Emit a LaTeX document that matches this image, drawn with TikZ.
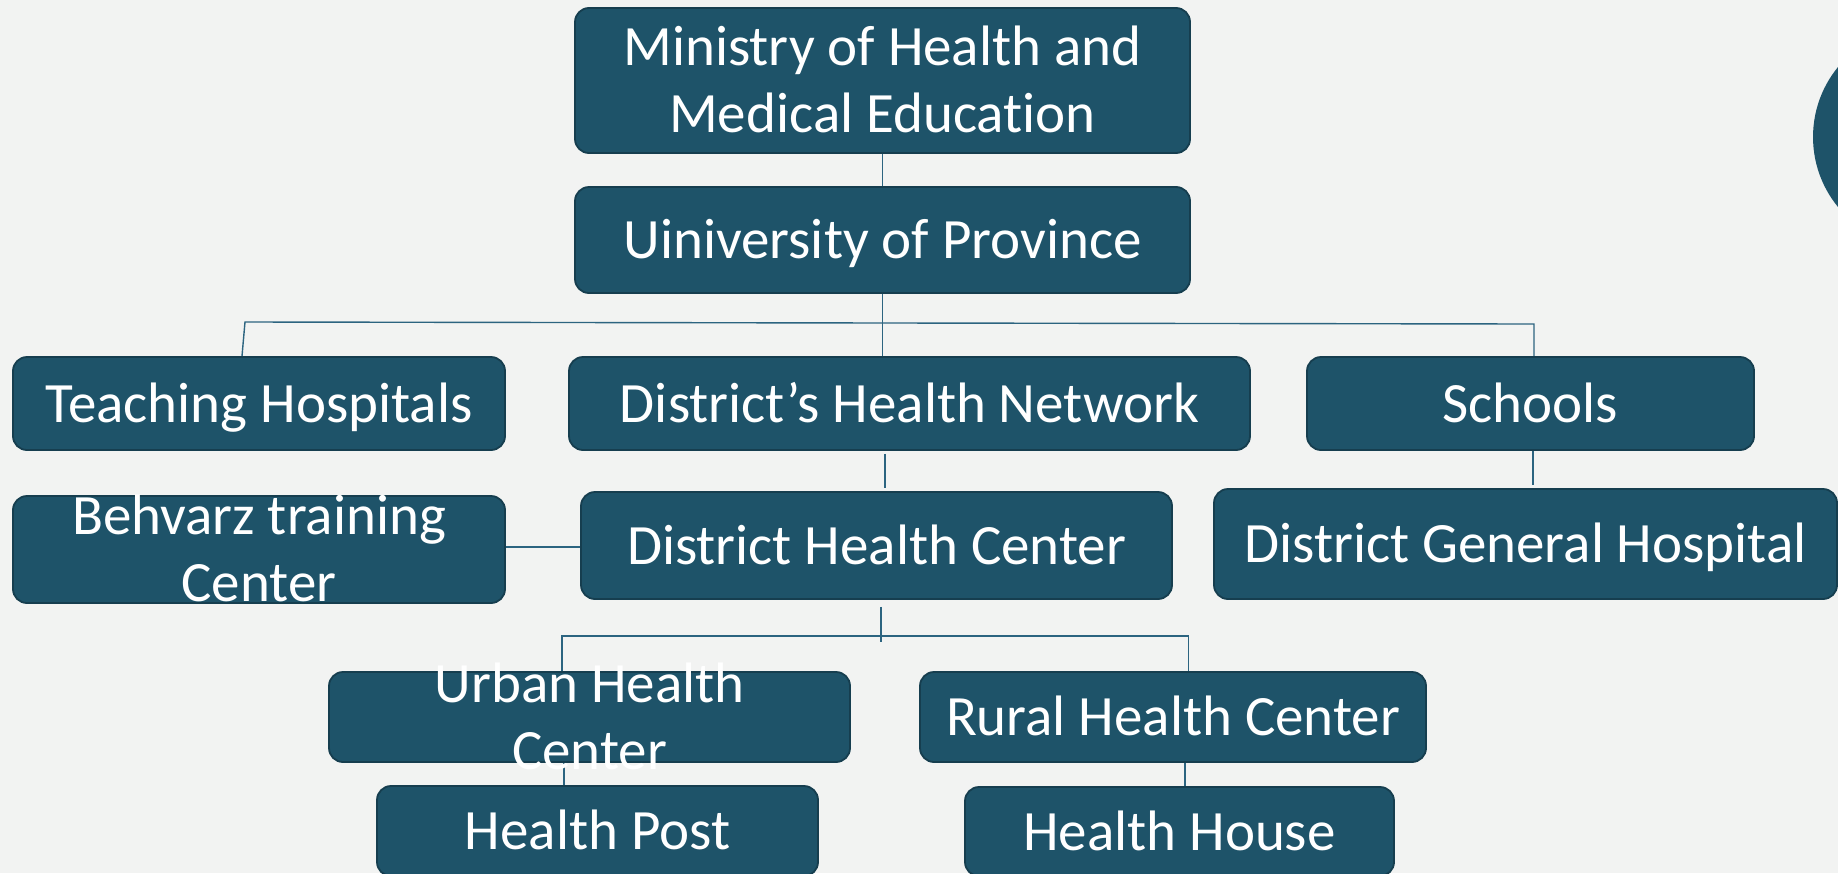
\documentclass[tikz,border=0pt]{standalone}
\usepackage{fontspec}
\setmainfont{Carlito}[Ligatures={NoCommon,NoRare,NoContextual},Contextuals={NoAlternate}]
\definecolor{bgcol}{HTML}{F2F3F2}
\definecolor{boxfill}{HTML}{1E5369}
\definecolor{boxedge}{HTML}{163E4F}
\definecolor{wirecol}{HTML}{2C6480}
\pgfdeclarelayer{bottom}
\pgfdeclarelayer{wires}
\pgfsetlayers{bottom,wires,main}
\begin{document}
\begin{tikzpicture}[x=1pt,y=-1pt,
  orgbox/.style={draw=boxedge, line width=1.8pt, fill=boxfill, rounded corners=14pt, inner sep=0pt},
  lbl/.style={text=white, font=\fontsize{57}{67}\selectfont, inner sep=0pt, text height=37pt, text depth=0pt, anchor=center},
  wire/.style={draw=wirecol, line width=1.4pt}]
\useasboundingbox (0,0) rectangle (1838,873);
\clip (0,0) rectangle (1838,873);
\begin{pgfonlayer}{bottom}
  \fill[bgcol] (0,0) rectangle (1838,873);
  \fill[boxfill] (1923.5,137) circle[radius=110.5];
\end{pgfonlayer}
% boxes
\node[orgbox, minimum width=615pt, minimum height=145pt] (ministry) at (882.5,80.5) {};
\node[orgbox, minimum width=615pt, minimum height=106pt] (univ) at (882.5,240) {};
\node[orgbox, minimum width=492pt, minimum height=93pt] (teach) at (259,403.5) {};
\node[orgbox, minimum width=681pt, minimum height=93pt] (dhn) at (909.5,403.5) {};
\node[orgbox, minimum width=447pt, minimum height=93pt] (schools) at (1530.5,403.5) {};
\node[orgbox, minimum width=492pt, minimum height=107pt] (behvarz) at (259,549.5) {};
\node[orgbox, minimum width=591pt, minimum height=107pt] (dhc) at (876.5,545.5) {};
\node[orgbox, minimum width=623pt, minimum height=110pt] (dgh) at (1525.5,544) {};
\node[orgbox, minimum width=521pt, minimum height=90pt] (urban) at (589.5,717) {};
\node[orgbox, minimum width=506pt, minimum height=90pt] (rural) at (1173,717) {};
\node[orgbox, minimum width=441pt, minimum height=90pt] (post) at (597.5,831) {};
\node[orgbox, minimum width=429pt, minimum height=89pt] (house) at (1179.5,831.5) {};
% labels
\node[lbl] (ministryA) at (882.5,47) {Ministry of Health and};
\node[lbl] (ministryB) at (882.5,114) {Medical Educat\kern0pt ion};
\node[lbl] (univT) at (univ.center) {Uiniversity of Province};
\node[lbl] (teachT) at (teach.center) {Teaching Hospitals};
\node[lbl] (dhnT) at (dhn.center) {District’s Health Network};
\node[lbl] (schoolsT) at (schools.center) {Schools};
\node[lbl] (behvarzA) at (259,516) {Behvarz training};
\node[lbl] (behvarzB) at (259,583) {Center};
\node[lbl] (dhcT) at (dhc.center) {District Health Center};
\node[lbl] (dghT) at (dgh.center) {District General Hospital};
\node[lbl] (urbanA) at (589.5,683.5) {Urban Health};
\node[lbl] (urbanB) at (589.5,750.5) {Center};
\node[lbl] (ruralT) at (rural.center) {Rural Health Center};
\node[lbl] (postT) at (post.center) {Health Post};
\node[lbl] (houseT) at (house.center) {Health House};
% connector helpers
\coordinate (hL) at (245,322);
\coordinate (hR) at (1534,324);
\coordinate (xT) at (242,0);
\coordinate (xA) at (885,0);
\coordinate (xB) at (1533,0);
\coordinate (yC) at (0,547);
\coordinate (dEnd) at (881,642);
\coordinate (bL) at (562,636);
\coordinate (bR) at (1188.5,636);
\coordinate (xE) at (564,0);
\coordinate (xF) at (1185,0);
\begin{pgfonlayer}{wires}
  \draw[wire] (ministry.south) -- (univ.north);
  \draw[wire] (univ.south) -- (dhn.north -| univ.south);
  \draw[wire] (teach.north -| xT) -- (hL) -- (hR) -- (schools.north -| hR);
  \draw[wire, shorten <=3pt, shorten >=3pt] (dhn.south -| xA) -- (dhc.north -| xA);
  \draw[wire, shorten >=3pt] (schools.south -| xB) -- (dgh.north -| xB);
  \draw[wire] (behvarz.east |- yC) -- (dhc.west |- yC);
  \draw[wire, shorten <=7pt] (dhc.south -| dEnd) -- (dEnd);
  \draw[wire] (urban.north -| bL) -- (bL) -- (bR) -- (rural.north -| bR);
  \draw[wire] (urban.south -| xE) -- (post.north -| xE);
  \draw[wire] (rural.south -| xF) -- (house.north -| xF);
\end{pgfonlayer}
\end{tikzpicture}
\end{document}
